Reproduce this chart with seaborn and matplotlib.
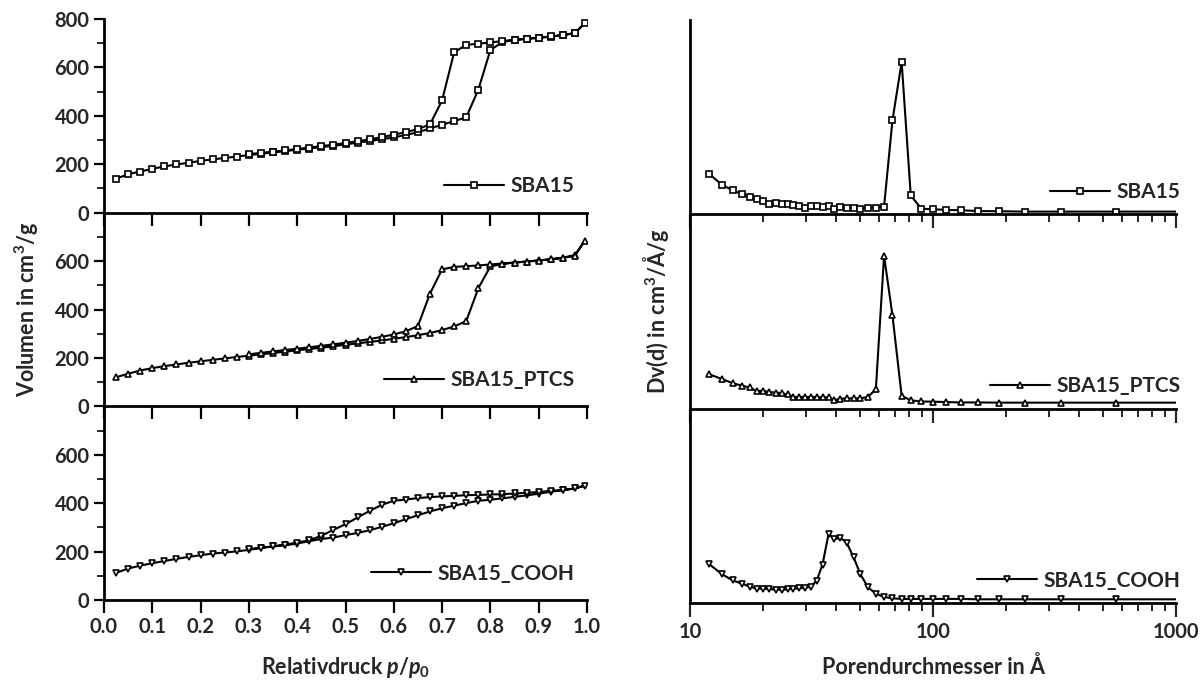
import numpy as np
import pandas as pd
import matplotlib
matplotlib.use("Agg")
import matplotlib.pyplot as plt
import seaborn as sns
from matplotlib.ticker import FixedLocator, NullFormatter, NullLocator, LogLocator

# ---------------- data ----------------
# Isotherms (left): adsorption branch
p_ads = [0.025, 0.05, 0.075, 0.1, 0.125, 0.15, 0.175, 0.2, 0.225, 0.25,
         0.275, 0.3, 0.325, 0.35, 0.375, 0.4, 0.425, 0.45, 0.475, 0.5,
         0.525, 0.55, 0.575, 0.6, 0.625, 0.65, 0.675, 0.7, 0.725, 0.75,
         0.775, 0.8, 0.825, 0.85, 0.875, 0.9, 0.925, 0.95, 0.975, 0.995]
# desorption branch
p_des = [0.975, 0.95, 0.925, 0.9, 0.875, 0.85, 0.825, 0.8, 0.775, 0.75,
         0.725, 0.7, 0.675, 0.65, 0.625, 0.6, 0.575, 0.55, 0.525, 0.5,
         0.475, 0.45, 0.425, 0.4, 0.375, 0.35, 0.325, 0.3]

sba15_ads = [140, 159, 170, 181, 191, 199, 206, 214, 220, 226,
             232, 238, 243, 249, 254, 260, 265, 271, 276, 282,
             289, 296, 303, 311, 321, 332, 348, 363, 378, 394,
             508, 672, 705, 713, 718, 722, 727, 733, 743, 782]
sba15_des = [741, 734, 728, 723, 719, 714, 709, 703, 698, 693,
             663, 464, 365, 345, 333, 322, 312, 303, 295, 288,
             281, 275, 269, 263, 257, 252, 247, 242]

ptcs_ads = [120, 135, 148, 158, 166, 173, 180, 186, 192, 198,
            204, 209, 215, 220, 226, 231, 237, 242, 248, 254,
            260, 266, 272, 279, 286, 294, 303, 315, 330, 352,
            488, 578, 588, 594, 598, 603, 608, 614, 625, 683]
ptcs_des = [622, 613, 607, 602, 598, 594, 590, 586, 582, 579,
            576, 566, 466, 332, 310, 297, 287, 278, 270, 263,
            256, 250, 244, 238, 233, 227, 221, 215]

cooh_ads = [112, 130, 142, 152, 161, 170, 178, 185, 192, 196,
            201, 207, 215, 221, 226, 233, 243, 252, 258, 268,
            277, 288, 302, 317, 334, 350, 366, 379, 390, 400,
            410, 414, 420, 426, 432, 439, 447, 454, 461, 472]
cooh_des = [461, 454, 451, 446, 443, 440, 437, 436, 434, 433,
            430, 428, 425, 421, 415, 410, 393, 368, 341, 313,
            290, 265, 247, 237, 229, 222, 216, 210]

# Pore size distributions (right), arbitrary units
d_pore = [12.0, 13.5, 15.0, 16.4, 17.6, 18.8, 20.0, 21.2, 22.5, 23.8,
          25.2, 26.6, 28.1, 29.7, 31.4, 33.2, 35.1, 37.2, 39.3, 41.6,
          44.1, 47.1, 50.3, 54.1, 58.2, 62.9, 68.1, 74.3, 81.0, 89.5,
          100, 113, 130, 153, 187, 238, 335, 565, 1200]
dv_sba15 = [0.208, 0.153, 0.123, 0.104, 0.090, 0.078, 0.068, 0.055, 0.057, 0.055,
            0.052, 0.047, 0.042, 0.033, 0.045, 0.042, 0.040, 0.042, 0.028, 0.036,
            0.035, 0.035, 0.028, 0.035, 0.035, 0.040, 0.484, 0.783, 0.097, 0.029,
            0.026, 0.023, 0.021, 0.017, 0.016, 0.014, 0.014, 0.014, 0.014]
dv_ptcs = [0.177, 0.153, 0.131, 0.118, 0.109, 0.090, 0.092, 0.085, 0.083, 0.080,
           0.073, 0.060, 0.060, 0.060, 0.060, 0.060, 0.058, 0.058, 0.044, 0.051,
           0.053, 0.053, 0.053, 0.061, 0.101, 0.787, 0.480, 0.066, 0.043, 0.037,
           0.036, 0.034, 0.032, 0.032, 0.031, 0.031, 0.031, 0.031, 0.031]
dv_cooh = [0.200, 0.149, 0.116, 0.099, 0.084, 0.074, 0.074, 0.072, 0.068, 0.068,
           0.070, 0.074, 0.075, 0.079, 0.084, 0.115, 0.198, 0.357, 0.328, 0.335,
           0.311, 0.236, 0.147, 0.080, 0.048, 0.031, 0.024, 0.021, 0.021, 0.021,
           0.021, 0.021, 0.021, 0.019, 0.019, 0.019, 0.019, 0.019, 0.019]

labels = ["SBA15", "SBA15_PTCS", "SBA15_COOH"]
markers = ["s", "^", "v"]

# ---------------- style ----------------
sns.set_style("ticks")
plt.rcParams["font.family"] = ["Lato", "DejaVu Sans"]
plt.rcParams["font.weight"] = "bold"
plt.rcParams["mathtext.fontset"] = "custom"
plt.rcParams["mathtext.rm"] = "Lato:bold"
plt.rcParams["mathtext.it"] = "Lato:bold:italic"
plt.rcParams["mathtext.bf"] = "Lato:bold"

fig = plt.figure(figsize=(12.03, 6.80), dpi=100)

W, H = 1203.0, 680.0
lx0, lx1 = 104, 587
ltop, lbot = 19, 600
rx0, rx1 = 690, 1176
rtop, rbot = 20, 603

def make_axes(x0, x1, top, bot):
    axs = []
    h = (bot - top) / 3.0
    for i in range(3):
        ytop = top + i * h
        axs.append(fig.add_axes([x0 / W, 1 - (ytop + h) / H, (x1 - x0) / W, h / H]))
    return axs

left_axes = make_axes(lx0, lx1, ltop, lbot)
right_axes = make_axes(rx0, rx1, rtop, rbot)

iso = [(sba15_ads, sba15_des), (ptcs_ads, ptcs_des), (cooh_ads, cooh_des)]
psd = [dv_sba15, dv_ptcs, dv_cooh]

mk_kw = dict(markersize=5, markerfacecolor="white", markeredgecolor="black",
             markeredgewidth=1.2, linewidth=1.5, color="black")

for i, ax in enumerate(left_axes):
    ads, des = iso[i]
    df = pd.DataFrame({"p": list(p_ads) + list(p_des),
                       "V": list(ads) + list(des)})
    sns.lineplot(data=df, x="p", y="V", ax=ax, sort=False, estimator=None,
                 marker=markers[i], label=labels[i], **mk_kw)
    ax.set_xlim(0, 1.0)
    ax.set_ylim(0, 800)
    ax.xaxis.set_major_locator(FixedLocator([0.0, 0.1, 0.2, 0.3, 0.4, 0.5,
                                             0.6, 0.7, 0.8, 0.9, 1.0]))
    if i == 0:
        ax.yaxis.set_major_locator(FixedLocator([0, 200, 400, 600, 800]))
    else:
        ax.yaxis.set_major_locator(FixedLocator([0, 200, 400, 600]))
    ax.yaxis.set_minor_locator(FixedLocator([100, 300, 500, 700]))
    ax.tick_params(axis="both", which="major", direction="out", length=9,
                   width=1.6, labelsize=14.5, color="black")
    ax.tick_params(axis="y", which="minor", direction="out", length=5, width=1.4)
    ax.tick_params(axis="y", which="major", length=7)
    for s in ["top", "right"]:
        ax.spines[s].set_visible(False)
    for s in ["left", "bottom"]:
        ax.spines[s].set_linewidth(2.0)
        ax.spines[s].set_color("black")
    ax.set_xlabel("")
    ax.set_ylabel("")
    for t in ax.get_yticklabels() + ax.get_xticklabels():
        t.set_fontweight("bold")
    if i < 2:
        ax.tick_params(axis="x", labelbottom=False)
    ax.legend(loc="lower right", frameon=False, handlelength=2.9,
              handletextpad=0.3, borderaxespad=0.2, bbox_to_anchor=(1.0, 0.02),
              prop={"weight": "bold", "size": 15})
    ax.set_facecolor("none")

left_axes[2].set_xlabel(r"Relativdruck $p/p_0$", fontsize=15.5, fontweight="bold",
                        labelpad=13)
left_axes[1].set_ylabel(r"Volumen in cm$^3$/g", fontsize=15.5, fontweight="bold",
                        labelpad=10)

for i, ax in enumerate(right_axes):
    df = pd.DataFrame({"d": d_pore, "dv": psd[i]})
    sns.lineplot(data=df, x="d", y="dv", ax=ax, sort=False, estimator=None,
                 marker=markers[i], label=labels[i], **mk_kw)
    ax.set_xscale("log")
    ax.set_xlim(10, 1000)
    ax.set_ylim(0, 1.0)
    ax.yaxis.set_major_locator(NullLocator())
    ax.yaxis.set_minor_locator(NullLocator())
    ax.xaxis.set_major_locator(FixedLocator([10, 100, 1000]))
    ax.xaxis.set_minor_locator(LogLocator(base=10, subs=(2, 3, 4, 5, 6, 7, 8, 9)))
    ax.xaxis.set_minor_formatter(NullFormatter())
    ax.set_xticklabels(["10", "100", "1000"])
    ax.tick_params(axis="x", which="major", direction="out", length=10,
                   width=1.6, labelsize=14.5)
    ax.tick_params(axis="x", which="minor", direction="out", length=6, width=1.4)
    for s in ["top", "right"]:
        ax.spines[s].set_visible(False)
    for s in ["left", "bottom"]:
        ax.spines[s].set_linewidth(2.0)
        ax.spines[s].set_color("black")
    ax.set_xlabel("")
    ax.set_ylabel("")
    for t in ax.get_xticklabels():
        t.set_fontweight("bold")
    if i < 2:
        ax.tick_params(axis="x", labelbottom=False)
    ax.legend(loc="lower right", frameon=False, handlelength=2.9,
              handletextpad=0.3, borderaxespad=0.2, bbox_to_anchor=(1.035, 0.0),
              prop={"weight": "bold", "size": 15})
    ax.set_facecolor("none")

right_axes[2].set_xlabel("Porendurchmesser in Å", fontsize=15.5, fontweight="bold",
                         labelpad=10)
right_axes[1].set_ylabel(r"Dv(d) in cm$^3$/Å/g", fontsize=15.5, fontweight="bold",
                         labelpad=14)

fig.savefig("out.png", dpi=100, facecolor="white")
